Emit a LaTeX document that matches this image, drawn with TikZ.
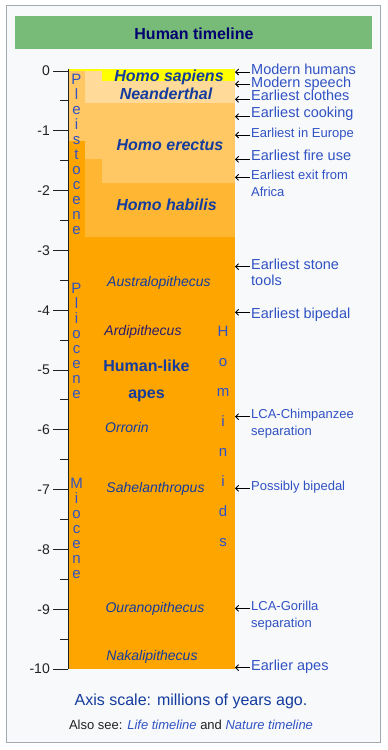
\documentclass[tikz,border=0pt]{standalone}
\usepackage{fontspec}
\setmainfont{Liberation Sans}
\usepackage{xcolor}
\usetikzlibrary{arrows.meta}
\definecolor{boxgray}{HTML}{F8F9FA}
\definecolor{framegray}{HTML}{A2A9B1}
\definecolor{headgreen}{RGB}{120,187,120}
\definecolor{titlenavy}{HTML}{000070}
\definecolor{noteblue}{HTML}{3052C4}
\definecolor{taxonblue}{HTML}{143C9E}
\definecolor{ardipurple}{HTML}{2B1B6E}
\definecolor{axisgray}{HTML}{202122}
\definecolor{miocene}{HTML}{FFA500}
\definecolor{habilis}{RGB}{255,183,51}
\definecolor{erectus}{RGB}{255,200,100}
\definecolor{neander}{RGB}{255,218,153}
\definecolor{sapiens}{HTML}{FFFF00}
\newcommand{\pxfont}[2]{\fontsize{#1}{#2}\selectfont}

\begin{document}
\begin{tikzpicture}[x=1pt,y=-1pt,
  axlabel/.style={anchor=east,inner sep=0pt,text=axisgray,font=\pxfont{14}{16}},
  tickline/.style={axisgray,line width=1pt},
  taxon/.style={anchor=base,inner sep=0pt,text=taxonblue,font=\pxfont{16}{18}\bfseries\itshape},
  genus/.style={anchor=base,inner sep=0pt,text=taxonblue,font=\pxfont{14}{16}\itshape},
  epochletter/.style={anchor=base,inner sep=0pt,text=noteblue,font=\pxfont{15}{15}},
  note/.style={anchor=base west,inner xsep=1pt,inner ysep=0pt,align=left,text=noteblue,font=\pxfont{14.5}{16}},
  smallnote/.style={note,font=\pxfont{13}{17}},
  pointer/.style={line width=0.9pt,-{Straight Barb[length=3pt,width=6pt]}}]
  \useasboundingbox (0,0) rectangle (388,750);
  % frame and header
  \draw[framegray,fill=boxgray,line width=1pt] (6.5,5.5) rectangle (380.5,742.5);
  \fill[headgreen] (15,16) rectangle (372,49);
  \node[anchor=base,inner sep=0pt,text=titlenavy,font=\pxfont{16}{18}\bfseries] (title) at (194,39) {Human timeline};
  % bars (pixel rows: 0 at y=71, -10 at y=669)
  \fill[miocene] (68,71) rectangle (235,669);
  \fill[habilis] (85,159) rectangle (235,237);
  \fill[erectus] (68,71) rectangle (85,141);
  \fill[erectus] (85,71) rectangle (102,159);
  \fill[erectus] (102,71) rectangle (235,182.5);
  \fill[neander] (85,71) rectangle (235,103);
  \fill[sapiens] (68,69) rectangle (235,71);
  \fill[sapiens] (102,71) rectangle (235,81);
  % axis
  \draw[tickline] (68,69) -- (68,669);
  \foreach \t/\lab in {0/0,1/-1,2/-2,3/-3,4/-4,5/-5,6/-6,7/-7,8/-8,9/-9,10/-10} {
    \draw[tickline] (53,{71+59.8*\t}) -- (68,{71+59.8*\t});
    \node[axlabel] (ax\t) at (50,{71+59.8*\t}) {\lab};
  }
  \foreach \t in {0.5,1.5,...,9.5}
    \draw[tickline] (60,{71+59.8*\t}) -- (68,{71+59.8*\t});
  % epochs and hominids, one letter per row
  \foreach \c [count=\i from 0] in {P,l,e,i,s,t,o,c,e,n,e}
    \node[epochletter] (ple\i) at (76.5,84+15*\i) {\c};
  \foreach \c [count=\i from 0] in {P,l,i,o,c,e,n,e}
    \node[epochletter] (pli\i) at (76.5,293.3+15*\i) {\c};
  \foreach \c [count=\i from 0] in {M,i,o,c,e,n,e}
    \node[epochletter] (mio\i) at (76.5,488.3+15*\i) {\c};
  \foreach \c [count=\i from 0] in {H,o,m,i,n,i,d,s}
    \node[epochletter] (hom\i) at (223,336+30*\i) {\c};
  % taxa
  \node[taxon] (hsap) at (169,81) {Homo sapiens};
  \node[taxon] (nean) at (166,99.3) {Neanderthal};
  \node[taxon] (erec) at (170,150.7) {Homo erectus};
  \node[taxon] (habi) at (166.5,210) {Homo habilis};
  \node[genus] (aust) at (159,286) {Australopithecus};
  \node[genus,text=ardipurple] (ardi) at (143,335.7) {Ardipithecus};
  \node[taxon,font=\pxfont{16}{18}\bfseries] (hla) at (146.5,371) {Human-like};
  \node[taxon,font=\pxfont{16}{18}\bfseries] (apes) at (146.5,398.3) {apes};
  \node[genus] (orro) at (127,432) {Orrorin};
  \node[genus] (sahe) at (155.5,492.3) {Sahelanthropus};
  \node[genus] (oura) at (155,612.3) {Ouranopithecus};
  \node[genus] (naka) at (152,660) {Nakalipithecus};
  % events (two-line texts sit on their last baseline)
  \node[note] (humans) at (250,74) {Modern humans};
  \node[note] (speech) at (250,87.3) {Modern speech};
  \node[note] (clothes) at (250,100.9) {Earliest clothes};
  \node[note] (cooking) at (250,117.3) {Earliest cooking};
  \node[smallnote] (europe) at (250,137.3) {Earliest in Europe};
  \node[note] (fire) at (250,160.7) {Earliest fire use};
  \node[smallnote] (exit) at (250,196) {Earliest exit from\\Africa};
  \node[note] (stone) at (250,285) {Earliest stone\\tools};
  \node[note] (biped) at (250,318.3) {Earliest bipedal};
  \node[smallnote] (chimp) at (250,435) {LCA-Chimpanzee\\separation};
  \node[smallnote] (possbip) at (250,490) {Possibly bipedal};
  \node[smallnote] (gorilla) at (250,627) {LCA-Gorilla\\separation};
  \node[note] (apes0) at (250,670) {Earlier apes};
  \foreach \n/\ya in {humans/72,speech/84,clothes/99.3,cooking/116.7,europe/135,fire/159.3,exit/177.3,stone/266.7,biped/312.3,chimp/416.7,possbip/488.3,gorilla/608.3,apes0/667.7} {
    \coordinate (t\n) at (235,\ya);
    \draw[pointer] (\n.west |- t\n) -- (t\n);
  }
  % footer
  \node[anchor=base,inner sep=0pt,text=taxonblue,font=\pxfont{16}{18}] (scale) at (191,705) {Axis scale: millions of years ago.};
  \node[anchor=base,inner sep=0pt,text=axisgray,font=\pxfont{13}{15}] (seealso) at (191,729.3) {Also see: \textcolor{noteblue}{\itshape Life timeline} and \textcolor{noteblue}{\itshape Nature timeline}};
\end{tikzpicture}
\end{document}
